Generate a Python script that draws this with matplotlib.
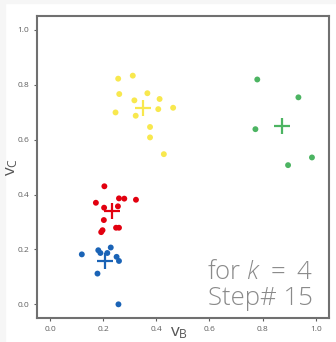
import numpy as np
import matplotlib
matplotlib.use('Agg')
import matplotlib.pyplot as plt
from matplotlib.patches import Rectangle

plt.rcParams['font.family'] = ['Open Sans', 'DejaVu Sans']
plt.rcParams['mathtext.fontset'] = 'custom'
plt.rcParams['mathtext.rm'] = 'Open Sans:light'
plt.rcParams['mathtext.it'] = 'Open Sans:italic:light'

# cluster members (v_B, v_C)
yellow_x = [0.311, 0.256, 0.260, 0.366, 0.412, 0.317, 0.463, 0.407, 0.246, 0.322, 0.376, 0.376, 0.428]
yellow_y = [0.833, 0.822, 0.766, 0.769, 0.748, 0.743, 0.716, 0.711, 0.699, 0.687, 0.646, 0.608, 0.547]
green_x = [0.780, 0.935, 0.773, 0.896, 0.986]
green_y = [0.819, 0.754, 0.638, 0.507, 0.535]
red_x = [0.204, 0.172, 0.203, 0.259, 0.279, 0.323, 0.255, 0.202, 0.197, 0.192, 0.248, 0.259]
red_y = [0.430, 0.370, 0.352, 0.386, 0.385, 0.381, 0.357, 0.307, 0.270, 0.263, 0.279, 0.279]
blue_x = [0.119, 0.181, 0.189, 0.215, 0.228, 0.250, 0.259, 0.178, 0.257]
blue_y = [0.182, 0.197, 0.187, 0.187, 0.207, 0.173, 0.158, 0.112, 0.000]

# centroids
centers_x = [0.348, 0.875, 0.232, 0.208]
centers_y = [0.715, 0.650, 0.340, 0.158]

colors = ['#F8E84E', '#4CB462', '#E2000F', '#1A63B6']
k = 4
step = 15

fig = plt.figure(figsize=(3.36, 3.42), dpi=100)
fig.patches.append(Rectangle((0, 0), 5 / 336, 1, transform=fig.transFigure,
                             color='#f6f6f6', zorder=-1))
fig.patches.append(Rectangle((0, 1 - 3 / 342), 1, 3 / 342, transform=fig.transFigure,
                             color='#f6f6f6', zorder=-1))
ax = fig.add_axes([0.110, 0.070, 0.869, 0.883])

groups = [(yellow_x, yellow_y), (green_x, green_y), (red_x, red_y), (blue_x, blue_y)]
for (gx, gy), c, cx, cy in zip(groups, colors, centers_x, centers_y):
    ax.scatter(gx, gy, s=18, color=c, edgecolors='none', zorder=3)
    ax.plot([cx], [cy], marker='+', markersize=11, markeredgewidth=1.6,
            color=c, linestyle='none', zorder=4)

ax.set_xlim(-0.05, 1.05)
ax.set_ylim(-0.05, 1.05)
ax.set_xticks(np.arange(0, 1.01, 0.2))
ax.set_yticks(np.arange(0, 1.01, 0.2))
ax.tick_params(labelsize=6, colors='#606060', length=2.5, width=0.8, pad=3)
for sp in ax.spines.values():
    sp.set_color('#707070')
    sp.set_linewidth(1.5)

ax.set_xlabel(r'$\mathregular{v_B}$', fontsize=12.5, color='#555555')
ax.set_ylabel(r'$\mathregular{v_C}$', fontsize=12.5, color='#555555')
ax.xaxis.set_label_coords(0.485, -0.024)
ax.yaxis.set_label_coords(-0.058, 0.5)

ax.text(0.945, 0.025, f'for $k\\ =\\ {k}$\nStep# {step}', transform=ax.transAxes,
        ha='right', va='bottom', fontsize=18.5, color='#8a8a8a',
        family=['Open Sans', 'DejaVu Sans'], fontweight='light', linespacing=1.05)

fig.savefig('out.png', dpi=100)
